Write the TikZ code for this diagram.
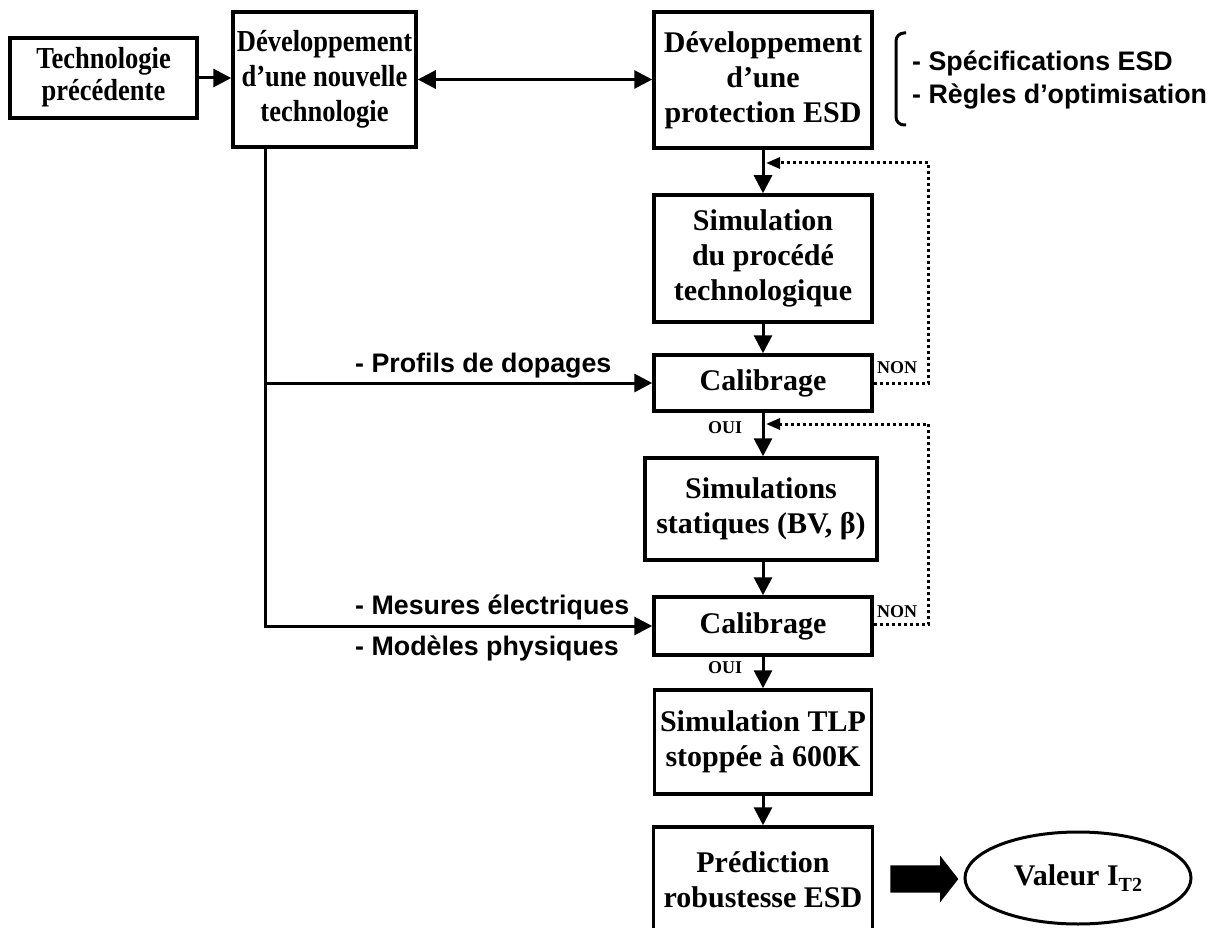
\documentclass[tikz,border=0pt]{standalone}
\usepackage{fontspec}
\setmainfont{Liberation Serif}
\newfontfamily\lsans{Liberation Sans}
\usetikzlibrary{arrows.meta,shapes.geometric,shapes.arrows}
\newcommand{\vtext}[2]{\scalebox{1}[#1]{\begin{tabular}{@{}c@{}}#2\end{tabular}}}
\begin{document}
\begin{tikzpicture}[x=1pt,y=-1pt,
  box/.style={draw, line width=3.5pt, align=center, inner sep=0pt, font=\fontsize{30}{35}\selectfont\bfseries},
  boxs/.style={draw, line width=3.5pt, inner sep=0pt},
  conn/.style={line width=3pt, -{Triangle[length=18pt,width=18pt]}},
  fb/.style={line width=3pt, dash pattern=on 3pt off 3pt, -{Triangle[length=14pt,width=11pt]}},
  side/.style={font=\fontsize{26.8}{33}\selectfont\lsans\bfseries, inner sep=0pt, anchor=west, align=left},
  tag/.style={font=\fontsize{18}{18}\selectfont\bfseries, inner sep=0pt}
]
\useasboundingbox (0,0) rectangle (1216,928);
\clip (0,0) rectangle (1216,928);
\fill[white] (0,0) rectangle (1216,928);

\node[boxs, minimum width=187, minimum height=80, font=\fontsize{26.5}{28}\selectfont\bfseries] (n1) at (103.5,78) {\vtext{1.15}{Technologie\\précédente}};
\node[boxs, minimum width=183, minimum height=135, font=\fontsize{26.5}{30.4}\selectfont\bfseries] (n2) at (324.5,79.5) {\vtext{1.15}{Développement\\d’une nouvelle\\technologie}};
\node[box, minimum width=218, minimum height=136] (n3) at (763,80) {Développement\\d’une\\protection ESD};
\node[box, minimum width=218, minimum height=127] (sim) at (763,258.5) {Simulation\\du procédé\\technologique};
\node[box, minimum width=218, minimum height=56] (cal1) at (763,383) {Calibrage};
\node[box, minimum width=232, minimum height=102] (stat) at (761,509) {Simulations\\statiques (BV, β)};
\node[box, minimum width=218, minimum height=58] (cal2) at (763,626) {Calibrage};
\node[box, minimum width=217, minimum height=104] (tlp) at (763,742) {Simulation TLP\\stoppée à 600K};
\node[box, minimum width=219, minimum height=106] (pred) at (763,880) {Prédiction\\robustesse ESD};
\node[draw, ellipse, line width=3pt, minimum width=226, minimum height=92, inner sep=0pt, font=\fontsize{30}{35}\selectfont\bfseries] (val) at (1078,878) {Valeur I\raisebox{-6pt}{\fontsize{20}{20}\selectfont T2}};

\draw[conn] (n1.east) -- (n1.east -| n2.west);
\draw[line width=3pt, {Triangle[length=18pt,width=18pt]}-{Triangle[length=18pt,width=18pt]}] (n2.east) -- (n2.east -| n3.west);
\draw[conn] (n3.south) -- (sim.north);
\draw[conn] (sim.south) -- (cal1.north);
\draw[conn] (cal1.south) -- (cal1.south |- stat.north);
\draw[conn] (cal1.south |- stat.south) -- (cal2.north);
\draw[conn] (cal2.south) -- (tlp.north);
\draw[conn] (tlp.south) -- (pred.north);

\coordinate (vx) at (265,0);
\draw[conn] (n2.south -| vx) -- (vx |- cal2) -- (cal2.west);
\draw[conn] (vx |- cal1) -- (cal1.west);

\coordinate (fb1) at (766,163);
\coordinate (fb2) at (766,424);
\draw[fb] (cal1.east) -- ++(55,0) |- (fb1);
\draw[fb] ([yshift=2pt]cal2.east) -- ++(55,0) |- (fb2);

\node[tag] (non1) at (897,368) {NON};
\node[tag] (oui1) at (725,428) {OUI};
\node[tag] (non2) at (897,612) {NON};
\node[tag] (oui2) at (725,668) {OUI};

\node[side] (l1) at (355,366) {- Profils de dopages};
\node[side] (l2) at (355,607) {- Mesures électriques};
\node[side] (l3) at (355,648) {- Modèles physiques};
\node[side] (spec) at (912,80) {- Spécifications ESD\\- Règles d’optimisation};
\draw[line width=3pt, rounded corners=8pt] (906,33) -- (896,33) -- (896,125) -- (906,125);

\node[single arrow, fill=black, inner xsep=0pt, inner ysep=13.5pt, minimum height=68, minimum width=46, single arrow head extend=9.5pt, single arrow tip angle=104] (fat) at (919,879) {};
\end{tikzpicture}
\end{document}
